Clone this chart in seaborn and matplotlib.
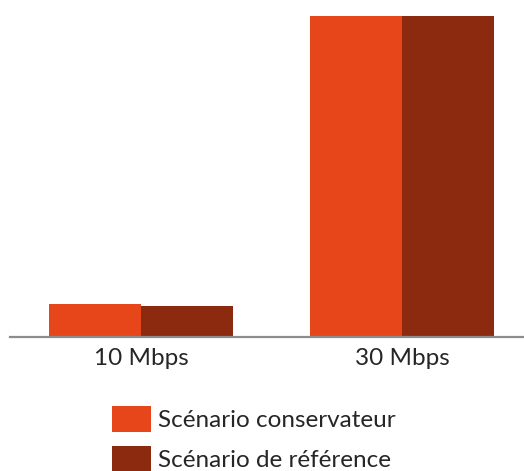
import matplotlib
matplotlib.use("Agg")
import matplotlib.pyplot as plt
import seaborn as sns
import pandas as pd
from matplotlib.patches import Patch

# Data
categories = ["10 Mbps", "30 Mbps"]
scenarios = ["Scénario conservateur", "Scénario de référence"]
conservateur = [10.3, 100.0]
reference = [9.7, 100.0]
colors = ["#E6461A", "#8C2A10"]

df = pd.DataFrame({
    "debit": categories * 2,
    "scenario": [scenarios[0]] * 2 + [scenarios[1]] * 2,
    "valeur": conservateur + reference,
})

sns.set_theme(style="white")
plt.rcParams["font.family"] = ["Lato", "DejaVu Sans"]

fig = plt.figure(figsize=(5.24, 4.71), dpi=100)
ax = fig.add_axes([10 / 524, 1 - 337 / 471, 1 - 10 / 524, 337 / 471])

sns.barplot(data=df, x="debit", y="valeur", hue="scenario", order=categories,
            hue_order=scenarios, palette=colors, width=0.705, gap=0,
            saturation=1, legend=False, linewidth=0, ax=ax)

ax.set_xlim(-0.502, 1.467)
ax.set_ylim(0, 100 * 337 / 321)
for s in ["top", "left", "right"]:
    ax.spines[s].set_visible(False)
ax.spines["bottom"].set_color("#8C8C8C")
ax.spines["bottom"].set_linewidth(1.6)
ax.set_yticks([])
ax.set_xlabel("")
ax.set_ylabel("")
ax.tick_params(axis="x", length=0, pad=8, labelsize=17.5, labelcolor="#262626")

handles = [Patch(facecolor=c, edgecolor="none") for c in colors]
fig.legend(handles, scenarios, loc="upper left", bbox_to_anchor=(112 / 524, 1 - 406 / 471),
           frameon=False, fontsize=17.5, handlelength=1.6, handleheight=1.3,
           handletextpad=0.3, labelspacing=0.55, borderaxespad=0, borderpad=0,
           labelcolor="#262626")

fig.savefig("out.png", dpi=100)
